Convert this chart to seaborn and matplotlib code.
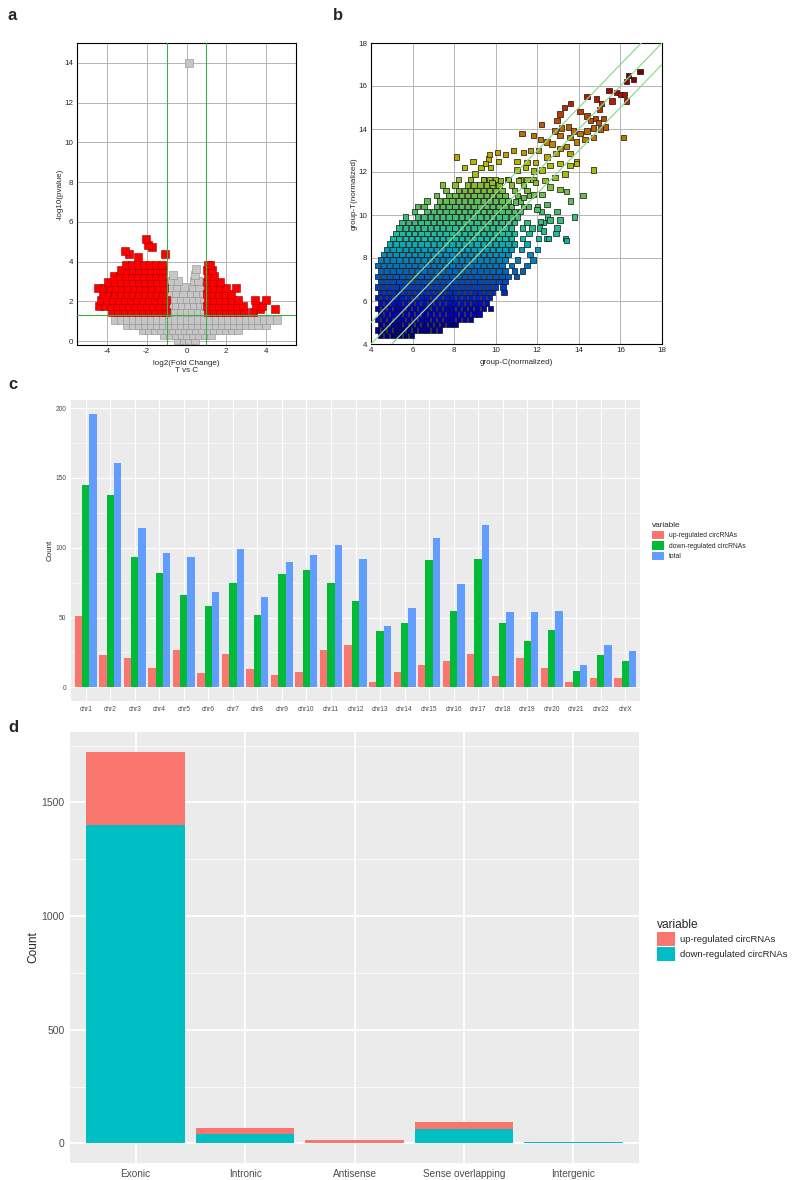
import numpy as np
import pandas as pd
import matplotlib
matplotlib.use("Agg")
import matplotlib.pyplot as plt
from matplotlib.colors import ListedColormap
from matplotlib.patches import Patch
import seaborn as sns

# ---------------- panel a: volcano plot, T vs C ----------------
# points: (-log10(pvalue) level, [log2 FC values])
volcano_sig_rows = [
    (1.45, [-3.75, -3.45, -3.1, -2.8, -2.5, -2.2, -1.9, -1.6, -1.3, -1.05]),
    (1.75, [-4.4, -4.1, -3.8, -3.5, -3.2, -2.9, -2.6, -2.3, -2.0, -1.7, -1.4, -1.1]),
    (2.05, [-4.3, -4.0, -3.7, -3.4, -3.1, -2.8, -2.5, -2.2, -1.9, -1.6, -1.3, -1.05]),
    (2.35, [-4.2, -3.9, -3.6, -3.3, -3.0, -2.7, -2.4, -2.1, -1.8, -1.5, -1.2]),
    (2.65, [-4.45, -4.15, -3.85, -3.55, -3.25, -2.95, -2.65, -2.35, -2.05, -1.75, -1.45, -1.15]),
    (2.95, [-3.95, -3.6, -3.3, -3.0, -2.7, -2.4, -2.1, -1.8, -1.5, -1.2]),
    (3.25, [-3.65, -3.35, -3.05, -2.75, -2.45, -2.15, -1.85, -1.55, -1.25]),
    (3.55, [-3.3, -3.0, -2.7, -2.4, -2.1, -1.8, -1.5, -1.2]),
    (3.85, [-3.05, -2.75, -2.45, -2.15, -1.85, -1.55, -1.25]),
    (4.25, [-2.45]),
    (4.4, [-2.9, -1.1]),
    (4.55, [-3.1]),
    (4.75, [-1.75]),
    (4.85, [-1.95]),
    (5.15, [-2.05]),
    (1.45, [1.1, 1.4, 1.7, 2.0, 2.3, 2.6, 2.9, 3.35]),
    (1.6, [4.45, 3.7]),
    (1.75, [1.05, 1.35, 1.65, 1.95, 2.25, 2.55, 2.85, 3.5, 3.8]),
    (2.05, [1.1, 1.4, 1.7, 2.0, 2.3, 2.6, 3.45, 4.0]),
    (2.35, [1.05, 1.35, 1.65, 1.95, 2.25]),
    (2.65, [1.1, 1.4, 1.7, 2.0, 2.5]),
    (2.95, [1.05, 1.35, 1.7]),
    (3.25, [1.1, 1.4]),
    (3.55, [1.05, 1.3]),
    (3.85, [1.1, 1.2]),
]
volcano_ns_rows = [
    (0.05, [-0.45, -0.15, 0.15, 0.45]),
    (0.3, [-1.15, -0.85, -0.55, -0.25, 0.05, 0.35, 0.65, 0.95, 1.25]),
    (0.55, [-2.2, -1.9, -1.6, -1.3, -1.0, -0.7, -0.4, -0.1, 0.2, 0.5, 0.8, 1.1, 1.4,
            1.7, 2.0, 2.3, 2.6]),
    (0.8, [-3.0, -2.7, -2.4, -2.1, -1.8, -1.5, -1.2, -0.9, -0.6, -0.3, 0.0, 0.3, 0.6,
           0.9, 1.2, 1.5, 1.8, 2.1, 2.4, 2.7, 3.0, 3.3, 3.6, 4.0]),
    (1.05, [-3.6, -3.3, -3.0, -2.7, -2.4, -2.1, -1.8, -1.5, -1.2, -0.9, -0.6, -0.3, 0.0,
            0.3, 0.6, 0.9, 1.2, 1.5, 1.8, 2.1, 2.4, 2.7, 3.0, 3.3, 3.6, 3.9, 4.2, 4.55]),
    (1.5, [-0.9, -0.6, -0.3, 0.0, 0.3, 0.6, 0.9]),
    (1.8, [-0.85, -0.55, -0.25, 0.1, 0.4, 0.7, 0.95]),
    (2.1, [-0.9, -0.6, -0.3, 0.05, 0.35, 0.65, 0.9]),
    (2.4, [-0.85, -0.55, -0.2, 0.25, 0.55, 0.85]),
    (2.7, [-0.8, -0.5, -0.15, 0.35, 0.65]),
    (3.0, [-0.75, -0.45, 0.4, 0.6]),
    (3.3, [-0.7, 0.45]),
    (3.6, [0.5]),
    (14.0, [0.15]),
]

# ---------------- panel b: group-C vs group-T (normalized) ----------------
# dense part of the cloud, row by row: (group-T level, [group-C values])
scatter_rows = [
    (4.4, [4.45, 4.75, 5.05, 5.35, 5.65, 5.95]),
    (4.65, [4.3, 4.6, 4.9, 5.2, 5.5, 5.8, 6.1, 6.4, 6.7, 7.0, 7.3]),
    (4.9, [4.45, 4.75, 5.05, 5.35, 5.65, 5.95, 6.25, 6.55, 6.85, 7.15, 7.45, 7.75, 8.05]),
    (5.15, [4.3, 4.6, 4.9, 5.2, 5.5, 5.8, 6.1, 6.4, 6.7, 7.0, 7.3, 7.6, 7.9, 8.2, 8.5, 8.8]),
    (5.4, [4.45, 4.75, 5.05, 5.35, 5.65, 5.95, 6.25, 6.55, 6.85, 7.15, 7.45, 7.75, 8.05,
           8.35, 8.65, 8.95, 9.2]),
    (5.65, [4.3, 4.6, 4.9, 5.2, 5.5, 5.8, 6.1, 6.4, 6.7, 7.0, 7.3, 7.6, 7.9, 8.2, 8.5,
            8.8, 9.1, 9.4, 9.75]),
    (5.9, [4.45, 4.75, 5.05, 5.35, 5.65, 5.95, 6.25, 6.55, 6.85, 7.15, 7.45, 7.75, 8.05,
           8.35, 8.65, 8.95, 9.25, 9.55]),
    (6.15, [4.3, 4.6, 4.9, 5.2, 5.5, 5.8, 6.1, 6.4, 6.7, 7.0, 7.3, 7.6, 7.9, 8.2, 8.5,
            8.8, 9.1, 9.4, 9.7]),
    (6.4, [4.45, 4.75, 5.05, 5.35, 5.65, 5.95, 6.25, 6.55, 6.85, 7.15, 7.45, 7.75, 8.05,
           8.35, 8.65, 8.95, 9.25, 9.55, 9.85, 10.4]),
    (6.65, [4.3, 4.6, 4.9, 5.2, 5.5, 5.8, 6.1, 6.4, 6.7, 7.0, 7.3, 7.6, 7.9, 8.2, 8.5,
            8.8, 9.1, 9.4, 9.7, 10.0, 10.35]),
    (6.9, [4.45, 4.75, 5.05, 5.35, 5.65, 5.95, 6.25, 6.55, 6.85, 7.15, 7.45, 7.75, 8.05,
           8.35, 8.65, 8.95, 9.25, 9.55, 9.85, 10.15, 10.45]),
    (7.15, [4.3, 4.6, 4.9, 5.2, 5.5, 5.8, 6.1, 6.4, 6.7, 7.0, 7.3, 7.6, 7.9, 8.2, 8.5,
            8.8, 9.1, 9.4, 9.7, 10.0, 10.3, 10.6, 11.0]),
    (7.4, [4.45, 4.75, 5.05, 5.35, 5.65, 5.95, 6.25, 6.55, 6.85, 7.15, 7.45, 7.75, 8.05,
           8.35, 8.65, 8.95, 9.25, 9.55, 9.85, 10.15, 10.45, 10.9, 11.3]),
    (7.65, [4.3, 4.6, 4.9, 5.2, 5.5, 5.8, 6.1, 6.4, 6.7, 7.0, 7.3, 7.6, 7.9, 8.2, 8.5,
            8.8, 9.1, 9.4, 9.7, 10.0, 10.3, 10.75, 11.5]),
    (7.9, [4.45, 4.75, 5.05, 5.35, 5.65, 5.95, 6.25, 6.55, 6.85, 7.15, 7.45, 7.75, 8.05,
           8.35, 8.65, 8.95, 9.25, 9.55, 9.85, 10.15, 10.45, 11.05, 11.8]),
    (8.15, [4.6, 4.9, 5.2, 5.5, 5.8, 6.1, 6.4, 6.7, 7.0, 7.3, 7.6, 7.9, 8.2, 8.5, 8.8,
            9.1, 9.4, 9.7, 10.0, 10.3, 10.6, 11.65]),
    (8.4, [4.75, 5.05, 5.35, 5.65, 5.95, 6.25, 6.55, 6.85, 7.15, 7.45, 7.75, 8.05, 8.35,
           8.65, 8.95, 9.25, 9.55, 9.85, 10.15, 10.45, 10.75, 11.25, 12.0]),
    (8.65, [4.9, 5.2, 5.5, 5.8, 6.1, 6.4, 6.7, 7.0, 7.3, 7.6, 7.9, 8.2, 8.5, 8.8, 9.1,
            9.4, 9.7, 10.0, 10.3, 10.6, 10.9, 11.5]),
    (8.9, [5.05, 5.35, 5.65, 5.95, 6.25, 6.55, 6.85, 7.15, 7.45, 7.75, 8.05, 8.35, 8.65,
           8.95, 9.25, 9.55, 9.85, 10.15, 10.45, 10.75, 11.3, 12.45, 13.35]),
    (9.15, [5.2, 5.5, 5.8, 6.1, 6.4, 6.7, 7.0, 7.3, 7.6, 7.9, 8.2, 8.5, 8.8, 9.1, 9.4,
            9.7, 10.0, 10.3, 10.6, 10.9, 11.6, 12.9]),
    (9.4, [5.35, 5.65, 5.95, 6.25, 6.55, 6.85, 7.15, 7.45, 7.75, 8.05, 8.35, 8.65, 8.95,
           9.25, 9.55, 9.85, 10.15, 10.45, 10.75, 11.3, 12.1]),
    (9.65, [5.5, 5.8, 6.1, 6.4, 6.7, 7.0, 7.3, 7.6, 7.9, 8.2, 8.5, 8.8, 9.1, 9.4, 9.7,
            10.0, 10.3, 10.6, 10.9, 11.5, 12.3]),
    (9.9, [5.65, 6.25, 6.55, 6.85, 7.15, 7.45, 7.75, 8.05, 8.35, 8.65, 8.95, 9.25, 9.55,
           9.85, 10.15, 10.45, 10.75, 11.05, 12.5, 13.8]),
    (10.15, [6.1, 6.7, 7.0, 7.3, 7.6, 7.9, 8.2, 8.5, 8.8, 9.1, 9.4, 9.7, 10.0, 10.3,
             10.6, 10.9, 11.2, 12.2]),
    (10.4, [6.25, 6.55, 7.15, 7.45, 7.75, 8.05, 8.35, 8.65, 8.95, 9.25, 9.55, 9.85,
            10.15, 10.45, 10.75, 11.35, 12.0]),
    (10.65, [6.7, 7.3, 7.6, 7.9, 8.2, 8.5, 8.8, 9.1, 9.4, 9.7, 10.0, 10.3, 10.6, 11.2,
             13.6]),
    (10.9, [7.15, 7.75, 8.05, 8.35, 8.65, 8.95, 9.25, 9.55, 9.85, 10.15, 10.45, 11.05,
            11.65, 14.2]),
    (11.15, [7.6, 8.2, 8.5, 8.8, 9.1, 9.4, 9.7, 10.0, 10.3, 10.9, 11.5]),
    (11.4, [7.45, 8.05, 8.65, 8.95, 9.25, 9.55, 9.85, 10.15, 10.75, 11.35]),
    (11.65, [8.2, 8.8, 9.4, 9.7, 10.0, 10.6, 11.2, 11.8]),
]
# scattered points above and right of the dense cloud
scatter_sparse_c = [
    16.95, 16.38, 16.62, 16.3, 15.8, 16.0, 16.2, 16.3, 15.6, 16.15,
    14.4, 14.85, 15.1, 13.6, 13.3, 13.1, 12.95,
    14.06, 14.39, 14.55, 14.8, 14.95, 15.2, 15.27, 15.03, 14.7, 14.39, 14.06, 13.74,
    13.5, 13.17, 12.85, 13.1, 13.58, 13.9, 14.3, 14.7,
    12.2, 11.82, 11.26, 12.14, 12.46, 12.7, 13.1, 13.4, 12.06, 11.66, 11.34, 10.86,
    10.46, 10.14, 9.66, 9.74, 14.7, 13.9, 13.58, 12.9, 12.46, 11.9, 11.5, 11.02, 11.02,
    11.42, 11.82, 12.22, 12.62, 13.1, 13.58, 13.9, 13.33, 12.86, 12.38, 11.9, 11.5,
    11.1, 10.62, 10.22, 9.82, 9.42, 12.62, 13.1, 13.42, 12.22, 11.82, 11.34, 10.94,
    12.46, 11.98, 11.58, 12.94, 12.62, 12.14, 13.1, 11.74, 12.3, 12.94, 13.42, 12.54,
    12.06, 8.1, 8.9, 9.0, 9.3, 9.5, 9.7, 10.1, 8.5, 15.45, 15.0,
]
scatter_sparse_t = [
    16.67, 16.5, 16.3, 16.2, 15.7, 15.6, 15.6, 15.3, 15.3, 13.6,
    15.5, 15.4, 15.2, 15.2, 15.0, 14.7, 14.4,
    14.8, 14.6, 14.4, 14.5, 14.3, 14.5, 14.1, 14.0, 14.05, 13.9, 13.8, 13.9,
    14.1, 14.05, 13.9, 13.7, 13.6, 13.4, 13.5, 13.6,
    14.2, 13.7, 13.8, 13.5, 13.4, 13.3, 13.1, 13.2, 13.0, 13.0, 12.9, 13.0,
    12.8, 12.5, 12.6, 12.2, 12.1, 12.5, 12.85, 12.85, 12.7, 12.45, 12.45, 12.5, 12.1,
    12.2, 12.05, 12.1, 12.3, 12.4, 12.3, 12.4, 11.9, 11.75, 11.6, 11.5, 11.65,
    11.6, 11.65, 11.6, 11.5, 11.65, 11.3, 11.2, 11.1, 10.95, 10.95, 10.8, 10.6,
    10.5, 10.25, 10.4, 10.15, 9.77, 9.7, 9.77, 9.4, 9.25, 9.4, 8.8, 8.9,
    8.9, 12.7, 12.5, 11.9, 12.2, 12.4, 12.8, 12.9, 12.2, 15.8, 14.9,
]

# ---------------- panel c: circRNAs per chromosome ----------------
chromosomes = ['chr1', 'chr2', 'chr3', 'chr4', 'chr5', 'chr6', 'chr7', 'chr8', 'chr9',
               'chr10', 'chr11', 'chr12', 'chr13', 'chr14', 'chr15', 'chr16', 'chr17',
               'chr18', 'chr19', 'chr20', 'chr21', 'chr22', 'chrX']
up_by_chr = [51, 23, 21, 14, 27, 10, 24, 13, 9, 11, 27, 30, 4, 11, 16, 19, 24, 8, 21, 14, 4, 7, 7]
down_by_chr = [145, 138, 93, 82, 66, 58, 75, 52, 81, 84, 75, 62, 40, 46, 91, 55, 92, 46, 33, 41, 12, 23, 19]
total_by_chr = [196, 161, 114, 96, 93, 68, 99, 65, 90, 95, 102, 92, 44, 57, 107, 74, 116, 54, 54, 55, 16, 30, 26]

# ---------------- panel d: circRNAs per genomic category ----------------
regions = ['Exonic', 'Intronic', 'Antisense', 'Sense overlapping', 'Intergenic']
up_by_region = [324, 29, 9, 30, 1]
down_by_region = [1400, 40, 4, 64, 5]

series_c = ['up-regulated circRNAs', 'down-regulated circRNAs', 'total']
colors_c = ['#F8766D', '#00BA38', '#619CFF']
series_d = ['up-regulated circRNAs', 'down-regulated circRNAs']
colors_d = ['#F8766D', '#00BFC4']

# jet, a bit darker like the printed scatter
dark_jet = ListedColormap(matplotlib.colormaps['jet'](np.linspace(0, 1, 256))[:, :3] * 0.74)


def unroll(rows):
    xs, ys = [], []
    for level, vals in rows:
        xs.extend(vals)
        ys.extend([level] * len(vals))
    return xs, ys


def gg_style(ax, major, minor, fs, major_lw, minor_lw):
    # ggplot2 theme_gray look
    ax.set_facecolor('#EBEBEB')
    for sp in ax.spines.values():
        sp.set_visible(False)
    ax.set_yticks(major)
    ax.set_yticks(minor, minor=True)
    ax.grid(which='major', color='white', lw=major_lw)
    ax.grid(which='minor', axis='y', color='white', lw=minor_lw)
    ax.set_axisbelow(True)
    ax.tick_params(which='major', length=2, width=0.6, color='#333333',
                   labelcolor='#4D4D4D', labelsize=fs, pad=1.5)
    ax.tick_params(which='minor', length=0)


def classic_style(ax):
    ax.grid(True, color='#b4b4b4', lw=0.7)
    ax.set_axisbelow(True)
    for sp in ax.spines.values():
        sp.set_color('black')
        sp.set_linewidth(0.8)
    ax.tick_params(direction='in', length=2, width=0.6, labelsize=5.8, pad=2.5)


sns.set_style("white")
plt.rcParams['font.family'] = ['Liberation Sans', 'DejaVu Sans']
plt.rcParams['axes.unicode_minus'] = False

W, H = 800, 1180
fig = plt.figure(figsize=(W / 100, H / 100), dpi=100)


def add_axes(left, top, right, bottom):
    return fig.add_axes([left / W, 1 - bottom / H, (right - left) / W, (bottom - top) / H])


# ---- a ----
ax_a = add_axes(77, 43, 296, 345)
nx, ny = unroll(volcano_ns_rows)
sx, sy = unroll(volcano_sig_rows)
df_ns = pd.DataFrame({'fc': nx, 'p': ny})
df_sig = pd.DataFrame({'fc': sx, 'p': sy})
sns.scatterplot(data=df_ns, x='fc', y='p', marker='s', s=26, color='#c6c6c6',
                edgecolor='#8e8e8e', linewidth=0.4, ax=ax_a, zorder=2)
sns.scatterplot(data=df_sig, x='fc', y='p', marker='s', s=26, color='#ff0000',
                edgecolor='#a00000', linewidth=0.4, ax=ax_a, zorder=3)
for v in (-1, 1):
    ax_a.axvline(v, color='#3cb043', lw=0.8, zorder=4)
ax_a.axhline(-np.log10(0.05), color='#3cb043', lw=0.8, zorder=4)
ax_a.set_xlim(-5.5, 5.5)
ax_a.set_ylim(-0.2, 15)
ax_a.set_xticks([-4, -2, 0, 2, 4])
ax_a.set_yticks(range(0, 15, 2))
classic_style(ax_a)
ax_a.set_xlabel('log2(Fold Change)\nT vs C', fontsize=5.8, labelpad=3, linespacing=1.05)
ax_a.set_ylabel('-log10(pvalue)', fontsize=5.8, labelpad=0.5)

# ---- b ----
ax_b = add_axes(371, 43, 662, 344)
bx, by = unroll(scatter_rows)
df_b = pd.DataFrame({'C': bx + scatter_sparse_c, 'T': by + scatter_sparse_t})
sns.scatterplot(data=df_b, x='C', y='T', hue='T', palette=dark_jet,
                hue_norm=(4.0, 17.0), marker='s', s=15, edgecolor='#111111', linewidth=0.5,
                legend=False, ax=ax_b, zorder=2)
for off in (-1, 0, 1):
    ax_b.axline((4, 4 + off), slope=1, color='#90d890', lw=0.9, zorder=4)
ax_b.set_xlim(4, 18)
ax_b.set_ylim(4, 18)
ax_b.set_xticks(range(4, 19, 2))
ax_b.set_yticks(range(4, 19, 2))
classic_style(ax_b)
ax_b.set_xlabel('group-C(normalized)', fontsize=5.8, labelpad=3)
ax_b.set_ylabel('group-T(normalized)', fontsize=5.8, labelpad=0.5)

# ---- c ----
ax_c = add_axes(71, 400, 640, 701)
df_c = pd.DataFrame({
    'chrom': chromosomes * 3,
    'variable': [s for s in series_c for _ in chromosomes],
    'count': up_by_chr + down_by_chr + total_by_chr,
})
sns.barplot(data=df_c, x='chrom', y='count', hue='variable', hue_order=series_c,
            palette=colors_c, width=0.9, gap=0, saturation=1, errorbar=None,
            legend=False, ax=ax_c, linewidth=0)
gg_style(ax_c, [0, 50, 100, 150, 200], [25, 75, 125, 175], 4.8, 0.8, 0.4)
ax_c.set_xlim(-0.6, len(chromosomes) - 0.4)
ax_c.set_ylim(-9.8, 205.8)
ax_c.set_xlabel('')
ax_c.set_ylabel('Count', fontsize=5.8, labelpad=1)
handles_c = [Patch(facecolor=c, edgecolor='none') for c in colors_c]
leg_c = ax_c.legend(handles_c, series_c, title='variable', loc='upper left',
                    bbox_to_anchor=(652 / W, 1 - 522 / H), bbox_transform=fig.transFigure,
                    frameon=False, fontsize=4.9, title_fontsize=5.9, handlelength=1.8,
                    handleheight=1.6, labelspacing=0.25, handletextpad=0.7,
                    borderpad=0, borderaxespad=0, alignment='left')

# ---- d ----
ax_d = add_axes(70, 732, 639, 1163)
df_d = pd.DataFrame({
    'region': regions * 2,
    'variable': [s for s in series_d for _ in regions],
    'count': up_by_region + down_by_region,
})
sns.histplot(data=df_d, x='region', weights='count', hue='variable', hue_order=series_d,
             multiple='stack', discrete=True, shrink=0.9, palette=colors_d, alpha=1,
             linewidth=0, legend=False, ax=ax_d)
gg_style(ax_d, [0, 500, 1000, 1500], [250, 750, 1250, 1750], 7.5, 1.3, 0.6)
ax_d.set_xticks(range(len(regions)))
ax_d.set_xticklabels(regions)
ax_d.tick_params(axis='x', labelsize=7.2, pad=1.5)
ax_d.tick_params(which='major', length=2.5)
ax_d.set_xlim(-0.6, len(regions) - 0.4)
ax_d.set_ylim(-86, 1810)
ax_d.set_xlabel('')
ax_d.set_ylabel('Count', fontsize=8.6, labelpad=1.5)
handles_d = [Patch(facecolor=c, edgecolor='none') for c in colors_d]
leg_d = ax_d.legend(handles_d, series_d, title='variable', loc='upper left',
                    bbox_to_anchor=(657 / W, 1 - 919 / H), bbox_transform=fig.transFigure,
                    frameon=False, fontsize=6.8, title_fontsize=8.6,
                    handlelength=1.9, handleheight=1.85, labelspacing=0.12,
                    handletextpad=0.5, borderpad=0, borderaxespad=0, alignment='left')

# panel letters
for letter, (px, py) in zip('abcd', [(8, 20), (333, 20), (8, 389), (8, 732)]):
    fig.text(px / W, 1 - py / H, letter, fontsize=12, fontweight='bold')

fig.savefig('out.png', dpi=100)
